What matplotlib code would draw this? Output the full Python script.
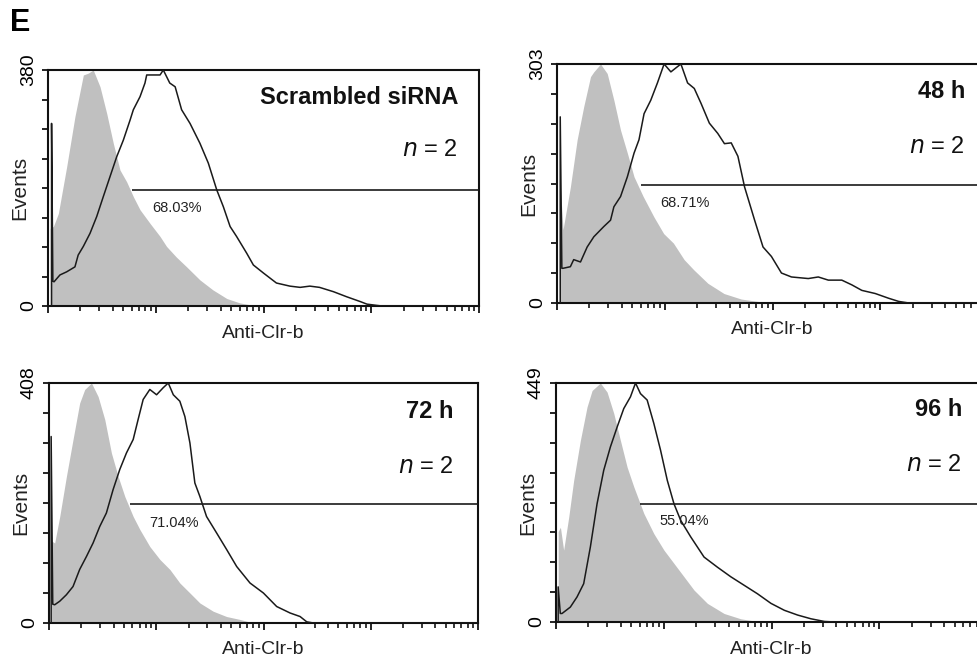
import numpy as np
import matplotlib
matplotlib.use("Agg")
import matplotlib.pyplot as plt

plt.rcParams['font.family'] = ['Liberation Sans', 'DejaVu Sans']

# ---------------- data (x in log10 decades of fluorescence, y = events) ----------------
titles = ["Scrambled siRNA", "48 h", "72 h", "96 h"]
y_max = [380, 303, 408, 449]
gate_pct = ["68.03%", "68.71%", "71.04%", "55.04%"]
gate_level = [187, 150, 202, 222]
gate_start = [0.777, 0.777, 0.753, 0.784]
label_pos = [(1.20, 158), (1.19, 127), (1.17, 170), (1.19, 190)]

# Panel 1: Scrambled siRNA
p1_grey_x = [0.02, 0.05, 0.096, 0.173, 0.25, 0.328, 0.374, 0.42, 0.483, 0.545, 0.606, 0.668,
             0.73, 0.792, 0.854, 0.947, 1.04, 1.10, 1.19, 1.287, 1.41, 1.53, 1.66, 1.78, 1.905, 1.97]
p1_grey_y = [125, 128, 149, 224, 305, 372, 375, 380, 353, 310, 262, 219,
             200, 176, 155, 133, 112, 96, 79, 63, 42, 26, 12, 5, 1, 0]
p1_black_x = [0.033, 0.033, 0.045, 0.056, 0.111, 0.173, 0.25, 0.28, 0.328, 0.39, 0.452, 0.513,
              0.575, 0.637, 0.699, 0.761, 0.792, 0.854, 0.9, 0.916, 1.04, 1.07, 1.13, 1.18,
              1.24, 1.318, 1.41, 1.488, 1.566, 1.627, 1.69, 1.75, 1.844, 1.906, 2.0, 2.12,
              2.245, 2.34, 2.43, 2.52, 2.65, 2.77, 2.9, 2.96, 3.05, 3.1, 4.0]
p1_black_y = [0, 294, 40, 39, 50, 55, 63, 82, 96, 117, 144, 176,
              208, 240, 267, 299, 316, 337, 359, 372, 372, 380, 359, 353,
              316, 294, 262, 230, 187, 160, 128, 112, 85, 66, 53, 37,
              32, 30, 32, 30, 23, 15, 7, 3, 1, 0, 0]

# Panel 2: 48 h
p2_grey_x = [0.03, 0.056, 0.124, 0.187, 0.248, 0.311, 0.341, 0.404, 0.466, 0.528, 0.59, 0.653,
             0.715, 0.80, 0.90, 0.99, 1.08, 1.18, 1.27, 1.40, 1.55, 1.71, 1.865, 1.96]
p2_grey_y = [150, 93, 147, 207, 249, 287, 293, 303, 291, 257, 219, 190,
             160, 135, 109, 88, 76, 55, 42, 25, 12, 5, 2, 0]
p2_black_x = [0.03, 0.03, 0.045, 0.056, 0.124, 0.155, 0.218, 0.28, 0.342, 0.435, 0.497, 0.528,
              0.59, 0.653, 0.715, 0.761, 0.808, 0.87, 0.932, 0.994, 1.057, 1.103, 1.15, 1.212,
              1.274, 1.337, 1.414, 1.492, 1.554, 1.617, 1.679, 1.741, 1.834, 1.912, 1.99,
              2.083, 2.176, 2.332, 2.425, 2.518, 2.643, 2.736, 2.829, 2.954, 3.078, 3.171,
              3.265, 4.0]
p2_black_y = [0, 236, 44, 44, 46, 55, 52, 71, 84, 97, 105, 122,
              135, 160, 190, 207, 240, 257, 279, 303, 293, 298, 303, 279,
              272, 253, 228, 215, 202, 203, 186, 147, 105, 71, 59,
              38, 33, 31, 33, 29, 29, 23, 16, 12, 6, 2,
              0, 0]

# Panel 3: 72 h
p3_grey_x = [0.02, 0.053, 0.1, 0.162, 0.224, 0.286, 0.333, 0.396, 0.458, 0.52, 0.582, 0.645,
             0.707, 0.785, 0.847, 0.94, 1.034, 1.127, 1.22, 1.314, 1.407, 1.531, 1.656, 1.781,
             1.905]
p3_grey_y = [140, 136, 181, 249, 312, 374, 397, 408, 385, 346, 289, 249,
             215, 181, 159, 130, 108, 91, 68, 51, 34, 20, 11, 6,
             0]
p3_black_x = [0.02, 0.02, 0.035, 0.053, 0.1, 0.162, 0.224, 0.286, 0.349, 0.411, 0.473, 0.535,
              0.598, 0.66, 0.722, 0.785, 0.831, 0.878, 0.94, 1.003, 1.065, 1.112, 1.159, 1.22,
              1.267, 1.314, 1.36, 1.407, 1.469, 1.563, 1.656, 1.75, 1.874, 1.999, 2.123,
              2.248, 2.341, 2.403, 2.465, 4.0]
p3_black_y = [0, 317, 32, 31, 37, 48, 62, 91, 113, 136, 164, 187,
              227, 261, 289, 312, 346, 380, 397, 388, 400, 408, 388, 377,
              351, 306, 238, 215, 181, 153, 125, 96, 68, 51, 28,
              17, 11, 2, 0, 0]

# Panel 4: 96 h
p4_grey_x = [0.02, 0.041, 0.071, 0.118, 0.164, 0.226, 0.288, 0.335, 0.412, 0.474, 0.536, 0.598,
             0.66, 0.722, 0.815, 0.908, 1.002, 1.095, 1.188, 1.281, 1.405, 1.56, 1.715, 1.87,
             1.962]
p4_grey_y = [170, 178, 135, 197, 266, 341, 404, 435, 449, 432, 392, 341,
             291, 254, 204, 166, 135, 110, 85, 60, 35, 16, 6, 1,
             0]
p4_black_x = [0.02, 0.02, 0.04, 0.056, 0.133, 0.195, 0.257, 0.319, 0.381, 0.443, 0.505, 0.567,
              0.629, 0.691, 0.738, 0.784, 0.846, 0.908, 0.97, 1.033, 1.095, 1.157, 1.25, 1.374,
              1.498, 1.622, 1.746, 1.87, 1.995, 2.119, 2.243, 2.367, 2.491, 2.584, 4.0]
p4_black_y = [0, 66, 16, 16, 28, 47, 72, 141, 222, 285, 329, 366,
              401, 423, 449, 429, 417, 373, 323, 266, 222, 191, 160, 122,
              103, 85, 69, 53, 35, 22, 13, 6, 1, 0, 0]

grey_x = [p1_grey_x, p2_grey_x, p3_grey_x, p4_grey_x]
grey_y = [p1_grey_y, p2_grey_y, p3_grey_y, p4_grey_y]
black_x = [p1_black_x, p2_black_x, p3_black_x, p4_black_x]
black_y = [p1_black_y, p2_black_y, p3_black_y, p4_black_y]

# ---------------- layout ----------------
W, H = 977, 665
fig = plt.figure(figsize=(W / 100, H / 100), dpi=100)

# axes boxes in pixels: left, top, right, bottom
boxes = [(48, 70, 479, 306), (557, 64, 988, 303), (49, 383, 478, 623), (556, 383, 987, 622)]
title_pos = [(458, 97), (965, 92), (454, 412), (962, 410)]
n_pos = [(458, 150), (965, 147), (454, 467), (962, 465)]

for i in range(4):
    l, t, r, b = boxes[i]
    ax = fig.add_axes([l / W, 1 - b / H, (r - l) / W, (b - t) / H])
    ax.set_xscale('log')
    ax.set_xlim(1, 1e4)
    ax.set_ylim(0, y_max[i])
    gx = 10 ** np.asarray(grey_x[i])
    bx = 10 ** np.asarray(black_x[i])
    ax.fill_between(gx, 0, grey_y[i], color='#c0c0c0', lw=0, zorder=1)
    ax.plot(bx, black_y[i], color='#1a1a1a', lw=1.1, zorder=3)
    # gate marker
    ax.hlines(gate_level[i], 10 ** gate_start[i], 1e4, color='#1a1a1a', lw=1.2, zorder=4)
    ax.text(10 ** label_pos[i][0], label_pos[i][1], gate_pct[i], fontsize=10.5,
            ha='center', va='center', color='#222222', zorder=5)

    for s in ax.spines.values():
        s.set_linewidth(1.5)
        s.set_color('#111111')
    ax.set_yticks(np.linspace(0, y_max[i], 9))
    ax.set_yticklabels(['0'] + [''] * 7 + [str(y_max[i])], rotation=90, va='center',
                       fontsize=14)
    ax.tick_params(axis='y', direction='out', length=4, width=1.2, pad=4)
    ax.tick_params(axis='x', which='major', direction='out', length=5, width=1.2,
                   labelbottom=False)
    ax.tick_params(axis='x', which='minor', direction='out', length=3.5, width=1.1)
    ax.xaxis.set_major_locator(matplotlib.ticker.LogLocator(base=10, numticks=10))
    ax.xaxis.set_minor_locator(matplotlib.ticker.LogLocator(base=10, subs=np.arange(2, 10),
                                                            numticks=50))
    ax.xaxis.set_minor_formatter(matplotlib.ticker.NullFormatter())

    # axis labels
    fig.text(((l + r) / 2) / W, 1 - (b + 27) / H, "Anti-Clr-b", fontsize=14,
             ha='center', va='center', color='#222222')
    fig.text((l - 28) / W, 1 - ((t + b) / 2) / H, "Events", fontsize=15, rotation=90,
             ha='center', va='center', color='#222222')

    fig.text(title_pos[i][0] / W, 1 - title_pos[i][1] / H, titles[i], fontsize=17,
             fontweight='bold', ha='right', va='center', color='#111111')
    fig.text(n_pos[i][0] / W, 1 - n_pos[i][1] / H, r"$\it{n}$ = 2", fontsize=17,
             ha='right', va='center', color='#111111')

fig.text(10 / W, 1 - 23 / H, "E", fontsize=22, fontweight='bold', ha='left', va='center')

fig.savefig("out.png", dpi=100)
